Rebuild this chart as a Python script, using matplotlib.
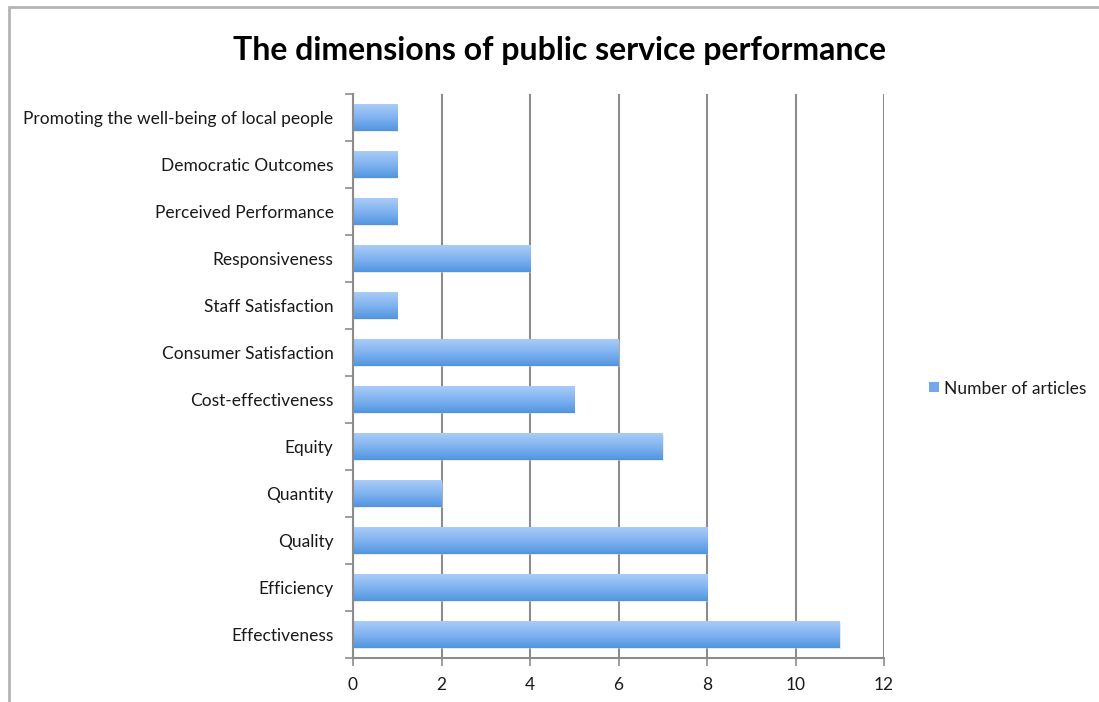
import matplotlib
matplotlib.use('Agg')
import matplotlib.pyplot as plt
import numpy as np
from matplotlib.colors import LinearSegmentedColormap
from matplotlib.patches import Rectangle

plt.rcParams['font.family'] = ['Lato', 'DejaVu Sans']

# bottom-to-top order, as the categories appear on the axis
dimensions = ['Effectiveness', 'Efficiency', 'Quality', 'Quantity', 'Equity',
              'Cost-effectiveness', 'Consumer Satisfaction', 'Staff Satisfaction',
              'Responsiveness', 'Perceived Performance', 'Democratic Outcomes',
              'Promoting the well-being of local people']
articles = [11, 8, 8, 2, 7, 5, 6, 1, 4, 1, 1, 1]
x_ticks = [0, 2, 4, 6, 8, 10, 12]

fig = plt.figure(figsize=(10.99, 7.02), dpi=100)
ax = fig.add_axes([0.3212, 0.0627, 0.4832, 0.8034])

# outer chart frame
fig.patches.append(Rectangle((0.0078, -0.05), 1.1, 1.04, transform=fig.transFigure,
                             fill=False, edgecolor='#b4b4b4', lw=2))

bar_h = 0.57
ypos = np.arange(len(dimensions))
bars = ax.barh(ypos, articles, height=bar_h, color='#7fb0ec', zorder=2)

# vertical gradient fill for each bar, light on top, darker below
grad = LinearSegmentedColormap.from_list('bluegrad', ['#5195de', '#80b3f0', '#a9cbf7'])
shade = np.linspace(0, 1, 64).reshape(-1, 1)
for b in bars:
    x0, y0 = b.get_x(), b.get_y()
    w, h = b.get_width(), b.get_height()
    # faint shadow under the bar
    ax.add_patch(Rectangle((x0, y0 - 0.03), w + 0.025, h, facecolor='#d4d4d4',
                           edgecolor='none', alpha=0.45, zorder=1.5))
    ax.imshow(shade, cmap=grad, aspect='auto', extent=(x0, x0 + w, y0, y0 + h),
              origin='lower', zorder=2.5, interpolation='bilinear')
    b.set_alpha(0)

ax.set_xlim(0, 12)
ax.set_ylim(-0.5, len(dimensions) - 0.5)
ax.set_xticks(x_ticks)
ax.set_xticklabels([str(t) for t in x_ticks])
ax.set_yticks(ypos)
ax.set_yticklabels(dimensions)
ax.set_yticks(np.arange(-0.5, len(dimensions), 1), minor=True)
ax.tick_params(axis='y', which='major', length=0, pad=14, labelsize=12.5, labelcolor='#1a1a1a')
ax.tick_params(axis='y', which='minor', length=6, color='#8c8c8c', width=1.2)
ax.tick_params(axis='x', length=6, color='#8c8c8c', width=1.2, pad=8, labelsize=12.5,
               labelcolor='#1a1a1a')

ax.grid(axis='x', color='#8c8c8c', lw=1.5, zorder=0)
ax.set_axisbelow(True)
for side in ['top', 'right']:
    ax.spines[side].set_visible(False)
for side in ['left', 'bottom']:
    ax.spines[side].set_color('#8c8c8c')
    ax.spines[side].set_linewidth(1.5)

fig.text(0.509, 0.928, 'The dimensions of public service performance', ha='center',
         va='center', fontsize=23, fontweight='bold', color='black')

# legend
fig.patches.append(Rectangle((0.8453, 0.4416), 0.0091, 0.0142, transform=fig.transFigure,
                             facecolor='#74a8ea', edgecolor='none'))
fig.text(0.859, 0.4459, 'Number of articles', ha='left', va='center', fontsize=12.5,
         color='#1a1a1a')

fig.savefig('out.png', dpi=100)
